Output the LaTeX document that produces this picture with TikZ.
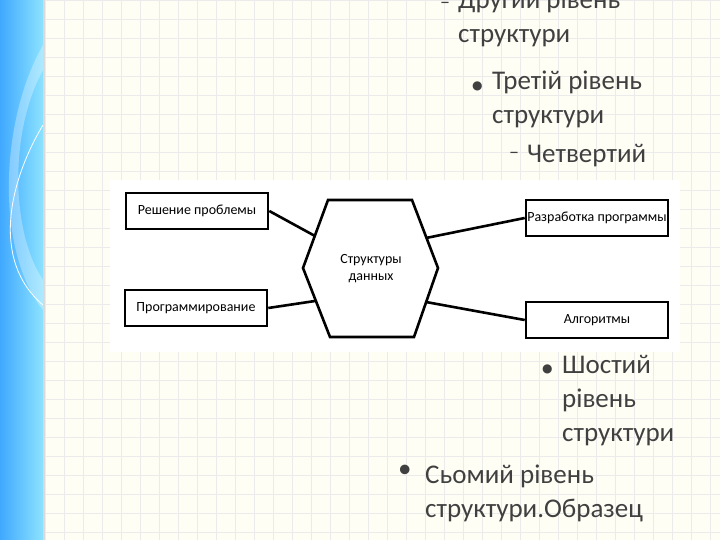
\documentclass[tikz,border=0pt]{standalone}
\usepackage{fontspec}
\setmainfont{Carlito}
\newfontfamily\dejavu{DejaVu Sans}
\begin{document}
\begin{tikzpicture}[x=1pt,y=-1pt,
  bx/.style={draw=black,line width=2.6pt,minimum width=142pt,minimum height=36pt,inner sep=0pt,font=\fontsize{14}{15}\selectfont},
  ln/.style={line width=2.6pt},
  tx/.style={anchor=north west,align=left,text=black!75,font=\fontsize{27}{34}\selectfont,inner sep=0pt}]
\useasboundingbox (0,0) rectangle (720,540);
\fill[white!96!yellow] (0,0) rectangle (720,540);
\foreach \i in {0,...,36} {\draw[black!8,line width=0.5pt] (45+19*\i,0) -- (45+19*\i,540);}
\foreach \j in {0,...,28} {\draw[black!8,line width=0.5pt] (45,19*\j) -- (720,19*\j);}
\fill[white] (110,180) rectangle (680,352);
% left band
\shade[left color=cyan!55!blue!75,right color=cyan!75!blue!45] (0,0) rectangle (43,540);
\fill[white,opacity=0.3] (43,45) .. controls (0,120) and (-5,250) .. (43,310) -- (43,280) .. controls (10,230) and (10,130) .. (43,70) -- cycle;
\draw[white,line width=0.8pt] (43,125) .. controls (10,180) and (-10,260) .. (43,305);
\draw[black!15,line width=2pt] (44,0) -- (44,540);
% diagram
\node[bx] (a) at (197,211) {Решение проблемы};
\node[bx] (b) at (196,308) {Программирование};
\node[bx] (c) at (597,218) {Разработка программы};
\node[bx] (d) at (597,320) {Алгоритмы};
\draw[ln] (328,200) -- (412,200) -- (438,268) -- (414,337) -- (330,337) -- (303,268) -- cycle;
\node[font=\fontsize{14}{17}\selectfont,align=center] (h) at (371,269) {Структуры\\данных};
\coordinate (h1) at (315,236); \coordinate (h2) at (315,301);
\coordinate (h3) at (426,238); \coordinate (h4) at (426,302);
\draw[ln] (a.east) -- (h1); \draw[ln] (b.east) -- (h2);
\draw[ln] (c.west) -- (h3); \draw[ln] (d.west) -- (h4);
% texts
\node[tx,font=\fontsize{20}{20}\selectfont] (t0d) at (440,2) {–};
\node[tx] (t0) at (458,-10) {Другий рівень\\структури};
\node[tx,font=\dejavu\fontsize{12}{12}\selectfont] (t1d) at (472,82) {●};
\node[tx] (t1) at (492,71) {Третій рівень\\структури};
\node[tx,font=\fontsize{20}{20}\selectfont] (t2d) at (509,152) {–};
\node[tx] (t2) at (527,144) {Четвертий};
\node[tx,font=\dejavu\fontsize{12}{12}\selectfont] (t3d) at (542,365) {●};
\node[tx] (t3) at (562,355) {Шостий\\рівень\\структури};
\node[tx] (t4d) at (398,465) {•};
\node[tx] (t4) at (425,465) {Сьомий рівень\\структури.Образец};
\end{tikzpicture}
\end{document}
